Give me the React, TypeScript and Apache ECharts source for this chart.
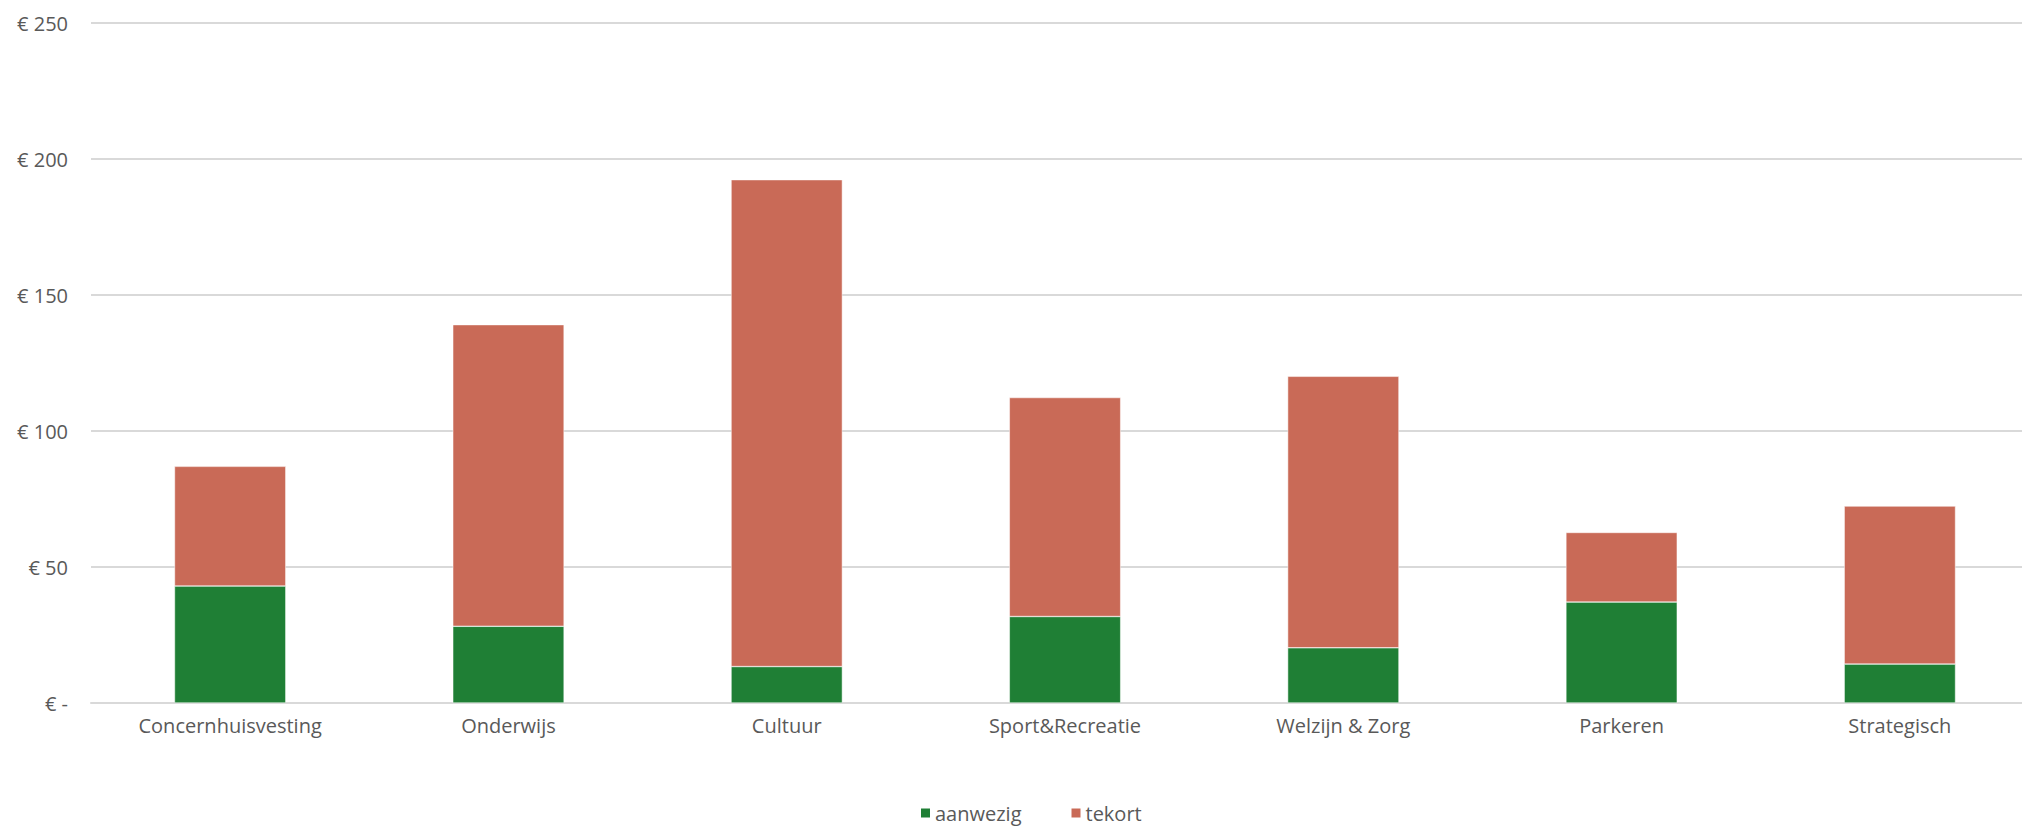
import React, { useEffect, useRef } from "react";
import * as echarts from "echarts";

const categories = [
  "Concernhuisvesting",
  "Onderwijs",
  "Cultuur",
  "Sport&Recreatie",
  "Welzijn & Zorg",
  "Parkeren",
  "Strategisch",
];
const aanwezig = [43.0, 28.2, 13.4, 31.8, 20.3, 37.1, 14.3];
const tekort = [44.0, 110.9, 179.0, 80.5, 99.8, 25.6, 58.1];
const seriesNames = ["aanwezig", "tekort"];
const colors = ["#1F7F35", "#C96A57"];
const yMax = 250;
const yStep = 50;

const FONT = "'Open Sans', Lato, sans-serif";
const TEXT = "#595959";

export default function App() {
  const ref = useRef<HTMLDivElement>(null);

  useEffect(() => {
    if (!ref.current) return;
    const chart = echarts.init(ref.current, null, { renderer: "svg" });
    chart.setOption({
      animation: false,
      backgroundColor: "#ffffff",
      textStyle: { fontFamily: FONT },
      grid: {
        left: 91,
        top: 23,
        width: 1948,
        height: 680,
        containLabel: false,
        outerBoundsMode: "none",
      },
      legend: {
        bottom: -1,
        left: 914,
        itemWidth: 11,
        itemHeight: 11,
        itemGap: 48,
        icon: "rect",
        textStyle: { color: TEXT, fontSize: 20, fontFamily: FONT, padding: [0, 0, 0, -1] },
        data: seriesNames,
      },
      xAxis: {
        type: "category",
        data: categories,
        axisTick: { show: false },
        axisLine: { show: true, lineStyle: { color: "#d9d9d9", width: 2 } },
        axisLabel: { color: TEXT, fontSize: 20, fontFamily: FONT, margin: 12 },
      },
      yAxis: {
        type: "value",
        min: 0,
        max: yMax,
        interval: yStep,
        axisLine: { show: false },
        axisTick: { show: false },
        splitLine: { lineStyle: { color: "#d9d9d9", width: 2 } },
        axisLabel: {
          color: TEXT,
          fontSize: 20,
          fontFamily: FONT,
          margin: 23,
          formatter: (v: number) => (v === 0 ? "€ -" : `€ ${v}`),
        },
      },
      series: [
        {
          name: seriesNames[0],
          type: "bar",
          stack: "total",
          data: aanwezig,
          barWidth: "40%",
          itemStyle: { color: colors[0], borderColor: "#ffffff", borderWidth: 0.5 },
        },
        {
          name: seriesNames[1],
          type: "bar",
          stack: "total",
          data: tekort,
          barWidth: "40%",
          itemStyle: { color: colors[1], borderColor: "#ffffff", borderWidth: 0.5 },
        },
      ],
    });
    return () => chart.dispose();
  }, []);

  return (
    <div
      ref={ref}
      style={{ position: "absolute", left: 0, top: 0, width: 2022, height: 827 }}
    />
  );
}
